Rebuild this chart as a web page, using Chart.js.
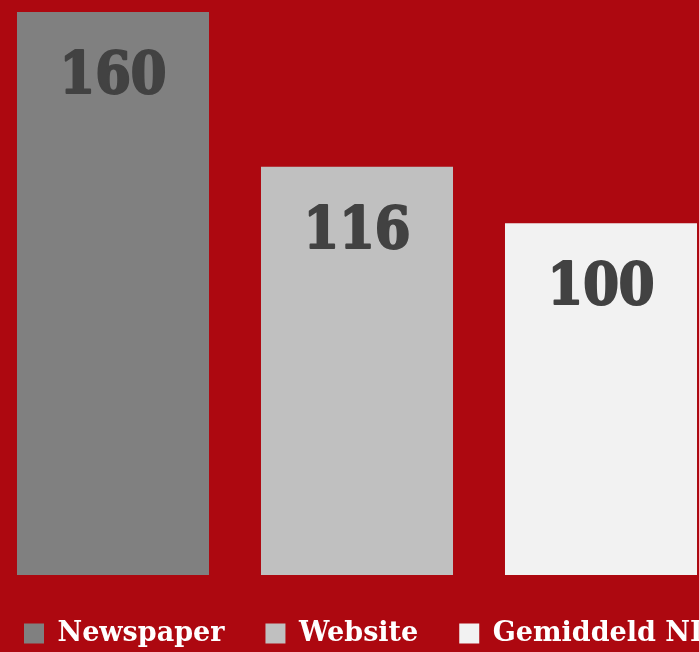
<!DOCTYPE html>
<html>
<head>
<meta charset="utf-8">
<script src="https://cdn.jsdelivr.net/npm/chart.js@4.4.1/dist/chart.umd.min.js"></script>
<style>
  html, body { margin: 0; padding: 0; background: #AD0810; overflow: hidden; width: 699px; height: 652px; }
  #wrap { position: absolute; left: -17px; top: 0; }
</style>
</head>
<body>
<div id="wrap"><canvas id="c" width="800" height="657"></canvas></div>
<script>
const categories = ['Newspaper', 'Website', 'Gemiddeld NL'];
const values = [160, 116, 100];
const barColors = ['#808080', '#C0C0C0', '#F2F2F2'];
const yMax = 160;

const valueLabels = {
  id: 'valueLabels',
  afterDatasetsDraw(chart) {
    const ctx = chart.ctx;
    const meta = chart.getDatasetMeta(0);
    ctx.save();
    ctx.font = 'bold 57px "DejaVu Serif Condensed", "DejaVu Serif", serif';
    ctx.fillStyle = '#424242';
    ctx.strokeStyle = '#424242';
    ctx.lineWidth = 2;
    ctx.lineJoin = 'round';
    ctx.textAlign = 'center';
    ctx.textBaseline = 'alphabetic';
    meta.data.forEach((bar, i) => {
      const t = String(values[i]);
      ctx.fillText(t, bar.x, bar.y + 81);
      ctx.strokeText(t, bar.x, bar.y + 81);
    });
    ctx.restore();
  }
};

new Chart(document.getElementById('c'), {
  type: 'bar',
  data: {
    labels: categories,
    datasets: [{
      data: values,
      backgroundColor: barColors,
      borderWidth: 0,
      categoryPercentage: 1,
      barPercentage: 0.787,
      clip: false
    }]
  },
  options: {
    responsive: false,
    animation: false,
    devicePixelRatio: 1,
    layout: { padding: { top: 12, left: 0, right: 0, bottom: 0 } },
    plugins: {
      tooltip: { enabled: false },
      legend: {
        position: 'bottom',
        align: 'start',
        labels: {
          boxWidth: 20,
          boxHeight: 20,
          padding: 41,
          color: '#FFFFFF',
          font: { family: '"DejaVu Serif", serif', weight: 'bold', size: 27 },
          generateLabels: () => categories.map((c, i) => ({
            text: c,
            fillStyle: barColors[i],
            strokeStyle: barColors[i],
            lineWidth: 0,
            fontColor: '#FFFFFF',
            hidden: false,
            index: i
          }))
        }
      }
    },
    scales: {
      x: {
        display: true,
        offset: true,
        grid: { display: false },
        border: { display: false },
        ticks: { display: false },
        afterFit: (s) => { s.height = 4; }
      },
      y: {
        display: true,
        position: 'left',
        min: 0,
        max: yMax,
        grid: { display: false },
        border: { display: false },
        ticks: { display: false },
        afterFit: (s) => { s.width = 8; }
      },
      yRight: {
        display: true,
        position: 'right',
        min: 0,
        max: yMax,
        grid: { display: false },
        border: { display: false },
        ticks: { display: false },
        afterFit: (s) => { s.width = 60; }
      }
    }
  },
  plugins: [valueLabels]
});
</script>
</body>
</html>
